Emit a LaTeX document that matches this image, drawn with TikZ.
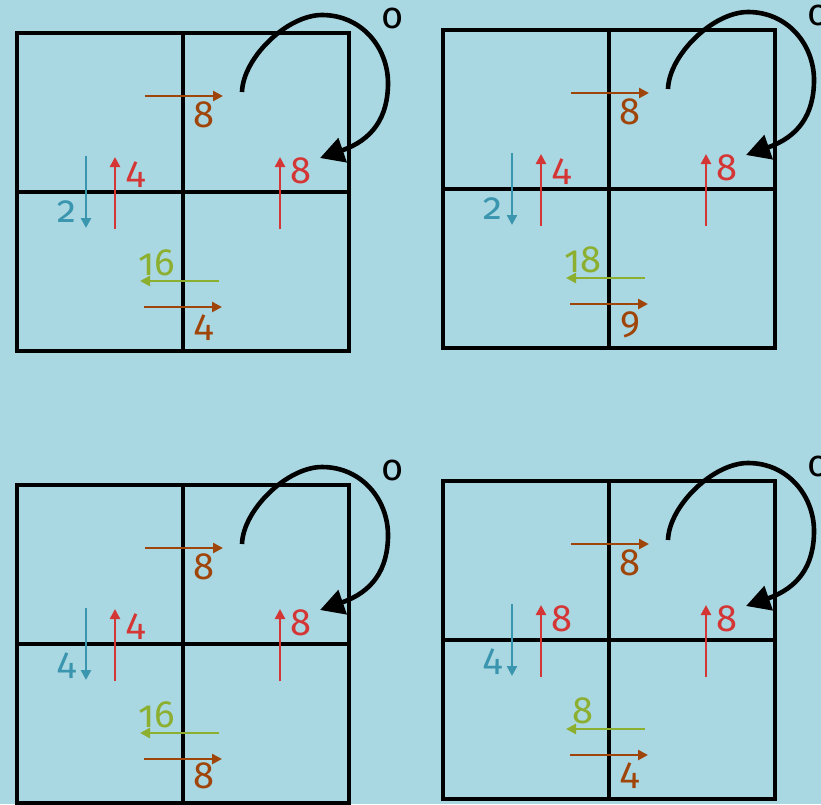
\documentclass[tikz,border=0pt]{standalone}
\usepackage{fontspec}
\setmainfont{Fira Sans}[Numbers=OldStyle]
\usetikzlibrary{arrows.meta}

\definecolor{bgblue}{HTML}{AAD8E2}
\definecolor{flowbrown}{HTML}{A0450A}
\definecolor{flowred}{HTML}{D43535}
\definecolor{flowteal}{HTML}{3A95AE}
\definecolor{flowgreen}{HTML}{8CAF30}

\tikzset{
  cellgrid/.style={line width=3.6pt},
  flow/.style={line width=2.5pt, -{Triangle[length=10pt,width=10pt]}},
  flowlabel/.style={anchor=base, inner sep=0pt, font=\fontsize{38}{40}\selectfont},
  turn/.style={line width=4.6pt, -{Triangle[length=24pt,width=25pt]}}
}

% one 2x2 panel: name, x, y, down value, up value, left value, lower right value
\newcommand{\gridpanel}[7]{%
  \begin{scope}[shift={(#2,#3)}]
    \draw[cellgrid] (0,0) rectangle (332,318);
    \draw[cellgrid] (166,0) -- (166,318);
    \draw[cellgrid] (0,159) -- (332,159);

    \draw[flow, flowbrown] (128,63) -- (206,63);
    \node[flowlabel, text=flowbrown] (#1topval) at (187,94) {8};
    \draw[flow, flowteal] (69,123) -- (69,195);
    \node[flowlabel, text=flowteal] (#1downval) at (50,189) {#4};
    \draw[flow, flowred] (98,196) -- (98,124);
    \node[flowlabel, text=flowred] (#1upval) at (119,150) {#5};
    \draw[flow, flowred] (263,196) -- (263,124);
    \node[flowlabel, text=flowred] (#1rightval) at (284,150) {8};
    \draw[flow, flowgreen] (202,248) -- (123,248);
    \node[flowlabel, text=flowgreen] (#1leftval) at (140,242) {#6};
    \draw[flow, flowbrown] (127,274) -- (205,274);
    \node[flowlabel, text=flowbrown] (#1botval) at (187,303) {#7};

    \coordinate (#1loopstart) at (225,59);
    \coordinate (#1loopend) at (303,125);
    \draw[turn] (#1loopstart) .. controls (226,25) and (270,-18) .. (305,-18)
      .. controls (345,-18) and (371,15) .. (371,50)
      .. controls (371,85) and (355,107) .. (#1loopend);
    \node[flowlabel] (#1mark) at (376,-5) {o};
  \end{scope}}

\begin{document}
\begin{tikzpicture}[x=1pt, y=-1pt]
    \useasboundingbox (0,0) rectangle (821,804);
    \fill[bgblue] (0,0) rectangle (821,804);

    \gridpanel{tl}{17}{33}{2}{4}{16}{4}
    \gridpanel{tr}{443}{30}{2}{4}{18}{9}
    \gridpanel{bl}{17}{485}{4}{4}{16}{8}
    \gridpanel{br}{443}{481}{4}{8}{8}{4}
\end{tikzpicture}
\end{document}
